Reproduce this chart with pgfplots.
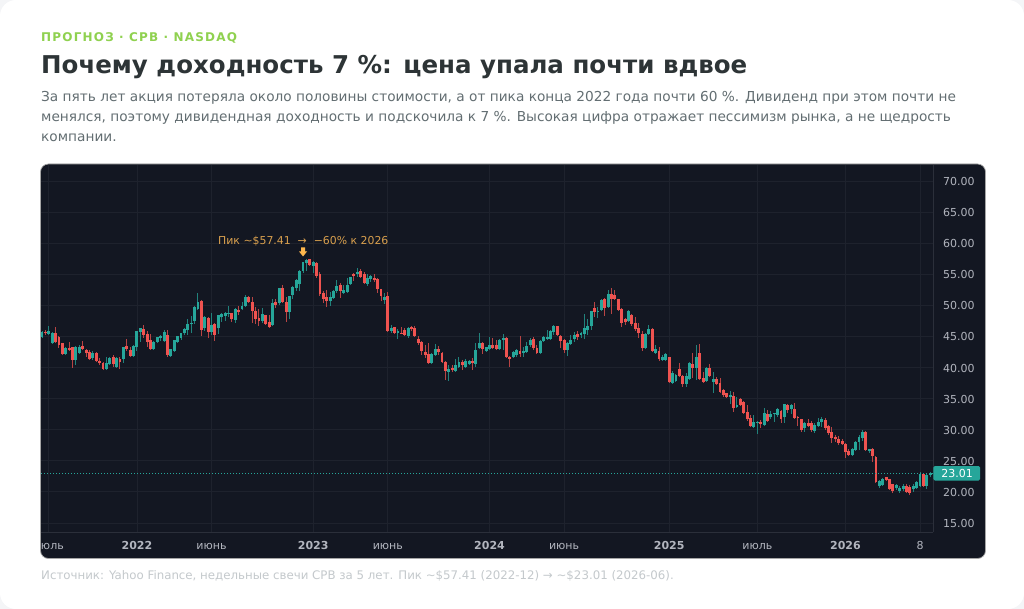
\documentclass[border=0pt]{standalone}
\usepackage{pgfplots}
\usepackage{pgfplotstable}
\usepackage{fontspec}
\pgfplotsset{compat=1.18}
\setmainfont{DejaVu Sans}
\newfontfamily\spacedbold[LetterSpace=10,BoldFont={DejaVu Sans Bold}]{DejaVu Sans}
\definecolor{upc}{HTML}{26A69A}
\definecolor{dnc}{HTML}{EF5350}
\definecolor{panel}{HTML}{131722}
\definecolor{gridc}{HTML}{1E222D}
\definecolor{axc}{HTML}{2B2F3A}
\definecolor{tickc}{HTML}{B2B5BE}
\definecolor{pagec}{HTML}{F4F5F7}
\definecolor{ttl}{HTML}{2D3436}
\definecolor{para}{HTML}{636E72}
\definecolor{foot}{HTML}{C4C9CC}
\definecolor{eyeb}{HTML}{8FD14F}
\definecolor{anno}{HTML}{D9A04E}
\definecolor{arr}{HTML}{FFB74D}
\pgfdeclareplotmark{downarr}{%
  \pgfpathmoveto{\pgfqpoint{-2pt}{4.5pt}}%
  \pgfpathlineto{\pgfqpoint{2pt}{4.5pt}}%
  \pgfpathlineto{\pgfqpoint{2pt}{0.5pt}}%
  \pgfpathlineto{\pgfqpoint{4pt}{0.5pt}}%
  \pgfpathlineto{\pgfqpoint{0pt}{-4.5pt}}%
  \pgfpathlineto{\pgfqpoint{-4pt}{0.5pt}}%
  \pgfpathlineto{\pgfqpoint{-2pt}{0.5pt}}%
  \pgfpathclose\pgfusepathqfill}
\pgfplotstableread{
x l b t h
0 44.7 44.95 45.75 45.9
2 45.2 45.4 45.9 46.7
3 43.8 43.9 45.6 45.65
7 42.1 42.2 43.2 43.25
10 40.4 41.2 43.25 43.45
11 42.3 42.4 43.35 43.7
15 41.2 41.5 42.4 42.7
19 39.7 39.8 40.65 41.75
20 40.4 40.5 41.5 41.75
22 39.85 40.1 41.5 41.75
24 40.65 41.3 43.25 43.35
27 41.75 41.85 43.45 43.6
28 42.7 43.25 45.85 45.9
29 44.15 45.75 46.3 46.4
33 42.8 42.9 44.15 44.25
34 44.1 44.15 44.85 44.95
35 44.2 44.7 45.05 45.2
36 44.15 44.2 45.75 46.05
38 41.7 41.8 42.9 43
39 42.5 42.7 44.4 44.5
40 43.9 44.15 45.05 45.1
41 44.5 44.8 45.5 45.55
42 45.2 45.5 46.2 46.3
43 45.25 46.05 47 47.8
44 45.6 46.95 47.2 48.35
45 47 47.5 49.8 49.9
46 49.3 49.35 50.6 51.95
48 45.9 46.3 48.2 48.3
50 45.2 45.75 46.85 48.7
52 45.4 46.3 48.45 48.5
53 47.4 48.05 48.6 48.8
54 47.5 48.3 48.7 49
55 48.2 48.7 48.8 49.95
57 47.1 47.65 49.35 49.5
59 49.3 49.35 49.9 50.6
60 49.85 49.9 51.3 51.65
65 47.1 47.5 48.6 49.5
68 46.7 46.85 50.3 51.1
70 50.05 50.45 52.75 52.85
73 47.8 49 51.5 51.55
74 51.1 51.65 53 53.1
75 52.35 52.75 54.1 54.2
76 52.35 53.4 55.55 55.7
77 55.25 55.55 56.9 57
78 55.6 56.85 57.3 57.45
80 55.15 56.3 57 57.15
85 49.9 50.75 51.4 52.2
86 51 51.25 52.3 52.45
87 51.95 52.35 53.1 54.1
89 51.8 52.05 52.45 53.3
90 52.1 52.2 53.3 54.35
91 53.3 53.4 54.5 54.6
93 54.5 55.05 55.4 55.95
96 53.1 53.4 54.35 55.05
97 53.8 54.2 54.7 54.9
101 50.2 50.85 51.4 51.95
103 45.5 45.85 46.3 46.85
105 44.6 45.5 45.95 46.15
108 44.7 45.1 46.3 46.45
115 40.55 40.7 42.2 42.3
116 41.9 42 43 43.75
120 37.9 39.35 39.75 40.4
122 39.35 39.45 40.4 41.3
123 40 40.15 40.85 41.75
125 40.05 40.15 41.05 41.3
126 40.35 40.55 41.1 41.2
128 40.15 40.55 42.8 44
129 42.95 43.1 43.9 45.6
131 42.55 42.65 43.25 43.35
132 42.8 43 43.65 44.95
135 42.8 42.95 44.45 44.55
136 42.8 44.45 44.7 45.35
139 41.5 41.65 42.55 42.7
140 41.65 42 42.8 42.9
142 41.65 42.3 42.7 43.35
143 42.4 42.55 43.5 44.05
144 43.35 43.6 44.45 44.7
147 42.2 42.3 44.25 44.45
148 44.1 44.2 44.85 45
149 44.45 44.55 44.85 46.05
150 44.45 44.6 45.9 46.05
151 45.25 45.75 46.6 46.85
155 41.9 42.8 44 44.15
156 43.75 43.8 44.45 45.25
157 44.15 44.55 45.25 45.75
159 44.7 45.25 45.5 45.75
160 44.55 45.4 46.4 48.6
161 45.25 46.05 46.7 47.75
162 46.05 46.6 49.1 49.15
164 48 49 49.15 49.8
165 49.15 49.25 50.85 51
167 49.7 49.8 51.85 52.5
173 47.25 47.5 49.1 49.25
178 42.95 43.1 45.4 45.5
179 45.25 45.4 46.2 46.85
181 42.3 42.4 42.95 43.7
183 41.1 41.2 41.75 42
184 41.1 41.2 42.2 42.3
186 37.45 37.55 39.05 39.45
187 37.85 37.9 38.8 38.9
190 36.8 37.35 38.65 39.2
191 38 38.15 40.65 40.95
193 38 39.95 41.75 43.6
196 37.75 37.85 39.85 40.15
198 35.95 37.75 38.15 39.25
203 34.15 35.2 35.55 36.2
205 33.45 33.6 34 35.2
210 30.4 30.5 31.2 32.4
211 29.3 31.05 31.2 31.45
213 30.6 30.75 32.65 33.55
215 31.7 32 32.55 33.05
216 31.3 32.5 32.65 32.75
217 32.1 32.4 33.3 33.45
219 31.15 32 34.1 34.15
221 32.55 33.35 34 34.1
225 29.6 30.25 31.05 31.2
228 29.55 29.85 30.75 31.05
229 30.4 30.6 31.3 31.85
230 30.5 31.2 31.75 32.1
239 25.85 25.95 26.85 27
240 26.65 26.75 28.1 28.25
241 26.75 28.1 28.9 29.15
242 28.2 28.7 29.6 29.95
244 26.2 26.5 26.85 26.95
247 20.7 21 21.8 21.9
248 21 21.1 22 22.2
252 20.3 20.55 21.1 21.35
253 19.85 20.15 20.55 21
254 20.2 20.45 21 21.35
257 20.05 20.4 21 21.25
258 20.55 20.7 21.65 21.75
259 20.85 20.95 22.95 23.25
261 20.4 20.95 22.7 22.95
262 22.35 22.7 23.01 23.25
}\upT
\pgfplotstableread{
x l b t h
1 45.2 45.5 45.75 46
4 43.9 44.15 45.6 46.45
5 43.1 43.6 44.85 45
6 42 42.2 43.9 44
8 42.7 42.8 43.2 44.15
9 40 41.2 43.25 43.35
12 42.9 43 43.45 44.25
13 41.75 42.3 42.8 43
14 41.2 41.3 42.55 42.8
16 40.95 41.1 42.4 42.55
17 40.4 40.65 41.1 41.5
18 39.6 39.75 40.8 40.95
21 40.1 40.5 41.75 42
23 39.7 40.95 41.4 41.65
25 42.7 42.9 43.45 44.55
26 41.65 41.85 42.8 43.25
30 44.7 45.25 46.2 46.85
31 43.35 44.15 45.4 45.9
32 42.8 42.9 44.5 45.4
37 41.65 42 45.2 46
47 45 46.05 50.75 50.85
49 44.7 45.75 48 48.1
51 44.3 45.25 47 47.1
56 47.4 47.75 48.7 48.8
58 48.45 49 49.25 49.95
61 50.5 50.6 51.4 51.5
62 47.1 49.1 50.6 51.3
63 47 47.8 49.15 49.8
64 46.7 47.55 47.9 49.35
66 46.9 47 48.45 48.5
67 46.3 46.45 47.4 48.45
69 49.5 50.05 50.6 51
71 50.45 50.6 52.85 53.3
72 47.4 48.9 50.6 51.4
79 56.3 56.5 57.4 57.5
81 54.35 54.7 56.85 57
82 51.5 51.8 55.05 55.4
83 50.45 51 52.05 52.35
84 49.8 50.75 51.3 52.45
88 51.25 52.35 53.3 53.55
92 53.9 54.7 55.05 55.25
94 54.45 54.6 55.6 55.8
95 53.45 53.55 55.05 55.4
98 53.8 54 54.35 55.05
99 52.05 52.6 54.25 54.35
100 50.75 51.5 52.6 52.7
102 45.75 45.85 51.5 52.2
104 45.4 45.6 46.45 46.55
106 45.4 45.5 45.6 46.45
107 45 45.25 46.05 46.4
109 45.95 46.15 46.45 46.6
110 45 45.1 46.3 46.6
111 43.65 44 44.6 45.15
112 42 42.65 44.15 44.3
113 41.5 42 42.45 43.65
114 40.55 40.7 42.2 44
117 42 42.55 42.95 43.45
118 40.8 40.95 42.3 42.45
119 38 39.45 40.95 41.1
121 39.35 39.6 40 40.4
124 39.6 40.4 40.95 41.2
127 39.6 40.7 41.1 41.5
130 42.2 42.95 44 44.15
133 42.95 43.1 43.65 44.8
134 42.8 43 43.55 44.45
137 41.5 41.65 44.8 44.85
138 40.15 41.4 41.75 41.85
141 41.65 42.2 42.65 45.1
145 42.8 43.1 44.55 44.85
146 42.2 42.3 43.1 43.6
152 45.1 45.25 46.6 46.7
153 43.1 44.25 45.1 45.25
154 42.4 42.8 44.45 44.55
158 44.45 44.85 45.4 45.95
163 48.1 49 49.5 50.6
166 48.3 49.65 51 51.15
168 48.6 51 51.85 52.8
169 50.85 51.05 51.65 52.5
170 49.15 49.25 51 51.05
171 46.55 47.2 49.4 49.5
172 46.85 47.25 47.8 47.9
174 46.7 47 48.45 48.6
175 45.95 46.15 47.2 48.2
176 44.7 45.5 46.3 47.1
177 42.7 43.1 45.4 45.95
180 42.55 42.7 46.2 46.3
182 41.05 41.3 42.7 43.35
185 37.5 37.6 41.65 41.75
188 38.45 38.65 39.7 40.65
189 36.9 37.35 38.65 38.8
192 38.25 39.85 40.5 42.3
194 38 38.1 42.3 43.8
195 37.6 37.75 38.25 39.35
197 38.45 38.65 39.95 40.55
199 37.2 37.35 38.1 38.55
200 35.85 36.1 37.45 38.25
201 35.2 35.55 36.4 36.55
202 35.05 35.2 35.85 35.95
204 32.9 33.45 35.4 36
206 33.95 34.05 34.9 35.05
207 32.6 32.75 34.5 34.6
208 31.45 31.65 32.9 34
209 30.5 30.6 31.85 32.4
212 30.25 30.85 31.3 31.55
214 31.3 31.45 32.55 33.15
218 31.05 31.7 33.05 33.15
220 32.65 33.15 34 34.15
222 31.85 31.95 33.35 34.25
223 30.6 32 32.1 32.2
224 29.7 29.95 31.7 31.8
226 30.4 30.65 31.05 31.8
227 29.7 29.95 31.05 31.45
231 29.95 30.35 31.55 31.85
232 29.15 29.55 30.6 30.75
233 27.8 28.6 29.7 30.4
234 28.1 28.45 28.9 29.15
235 27.55 27.9 28.5 29
236 27.55 27.65 28.25 28.45
237 25.5 26.35 27.65 27.8
238 25.8 25.95 26.6 26.85
243 26.65 26.75 29.7 29.8
245 24.85 25.75 26.85 27
246 21.5 21.65 25.65 25.75
249 21.75 21.9 22.35 22.45
250 20.3 20.4 22 22.1
251 19.75 20.2 21.25 21.35
255 19.85 20.05 21 21.25
256 19.5 19.85 20.85 21.1
260 20.85 21 22.8 22.95
}\dnT
\newcommand{\px}[1]{\fontsize{#1}{#1}\selectfont}
\begin{document}
\begin{tikzpicture}
\begin{scope}[x=1pt,y=-1pt]
\path[use as bounding box,fill=pagec] (0,0) rectangle (1024,609);
\fill[white,rounded corners=16pt] (0,0) rectangle (1024,609);
\node[anchor=base west,inner sep=0,text=eyeb] at (41,42) {\px{12}\spacedbold\bfseries ПРОГНОЗ · CPB · NASDAQ};
\node[anchor=base west,inner sep=0,text=ttl] at (41,74) {\px{24.5}\bfseries Почему доходность 7 \%: цена упала почти вдвое};
\node[anchor=base west,inner sep=0,text=para] at (41,102) {\px{13.7}За пять лет акция потеряла около половины стоимости, а от пика конца 2022 года почти 60 \%. Дивиденд при этом почти не};
\node[anchor=base west,inner sep=0,text=para] at (41,122) {\px{13.7}менялся, поэтому дивидендная доходность и подскочила к 7 \%. Высокая цифра отражает пессимизм рынка, а не щедрость};
\node[anchor=base west,inner sep=0,text=para] at (41,142) {\px{13.7}компании.};
\draw[fill=panel,draw=gray!70,line width=0.7pt,rounded corners=8pt] (40.5,164) rectangle (985.5,558.5);
\end{scope}
\begin{axis}[
  at={(41pt,-532pt)},anchor=south west,scale only axis,
  width=892pt,height=367pt,
  xmin=-0.3,xmax=262.83,ymin=13.55,ymax=72.57,
  axis x line*=bottom,axis y line*=right,
  axis line style={-,color=axc,line width=0.8pt},
  grid=major,grid style={color=gridc,line width=0.8pt},
  major tick length=0pt,
  xtick={2,28,50,80,102,132,154,185,211,237,259},
  xticklabels={,\textbf{2022},июнь,\textbf{2023},июнь,\textbf{2024},июнь,\textbf{2025},июль,\textbf{2026},8},
  xticklabel style={anchor=base,yshift=-17pt,text=tickc,font=\px{11}},
  ytick={15,20,25,30,35,40,45,50,55,60,65,70},
  yticklabel style={anchor=west,xshift=6.5pt,yshift=-0.5pt,text=tickc,font=\px{11},
    /pgf/number format/.cd,fixed,fixed zerofill,precision=2,assume math mode=true},
  clip=true,
]
\addplot[draw=none,no markers,error bars/.cd,y dir=both,y explicit,error mark=none,
  error bar style={draw=upc!75!panel,line width=1pt}]
  table[x=x,y=b,y error plus expr=\thisrow{h}-\thisrow{b},y error minus expr=\thisrow{b}-\thisrow{l}] {\upT};
\addplot[draw=none,no markers,error bars/.cd,y dir=both,y explicit,error mark=none,
  error bar style={draw=dnc!75!panel,line width=1pt}]
  table[x=x,y=b,y error plus expr=\thisrow{h}-\thisrow{b},y error minus expr=\thisrow{b}-\thisrow{l}] {\dnT};
\addplot[draw=none,no markers,error bars/.cd,y dir=plus,y explicit,error mark=none,
  error bar style={draw=upc,line width=2.9pt}]
  table[x=x,y=b,y error plus expr=\thisrow{t}-\thisrow{b}] {\upT};
\addplot[draw=none,no markers,error bars/.cd,y dir=plus,y explicit,error mark=none,
  error bar style={draw=dnc,line width=2.9pt}]
  table[x=x,y=b,y error plus expr=\thisrow{t}-\thisrow{b}] {\dnT};
\addplot[upc,line width=1.2pt,dash pattern=on 1.2pt off 1.8pt] coordinates {(-0.3,23.01) (262.83,23.01)};
\addplot[only marks,mark=downarr,color=arr,mark options={fill=arr,draw=none}] coordinates {(77,58.58)};
\end{axis}
\begin{scope}[x=1pt,y=-1pt]
\begin{scope}
\clip (41,536) rectangle (80,556);
\node[anchor=base,inner sep=0,text=tickc] at (48.8,549) {\px{11}июль};
\end{scope}
\node[anchor=base west,inner sep=0,text=anno] at (218,245) {\px{10.9}Пик \textasciitilde\$57.41\ \ →\ \ −60\% к 2026};
\fill[upc,rounded corners=1.5pt] (933.3,466) rectangle (980,480.5);
\node[anchor=base,inner sep=0,text=white] at (957,477.5) {\px{11}23.01};
\node[anchor=base west,inner sep=0,text=foot] at (41,579) {\px{11.8}Источник: Yahoo Finance, недельные свечи CPB за 5 лет. Пик \textasciitilde\$57.41 (2022-12) → \textasciitilde\$23.01 (2026-06).};
\end{scope}
\end{tikzpicture}
\end{document}
